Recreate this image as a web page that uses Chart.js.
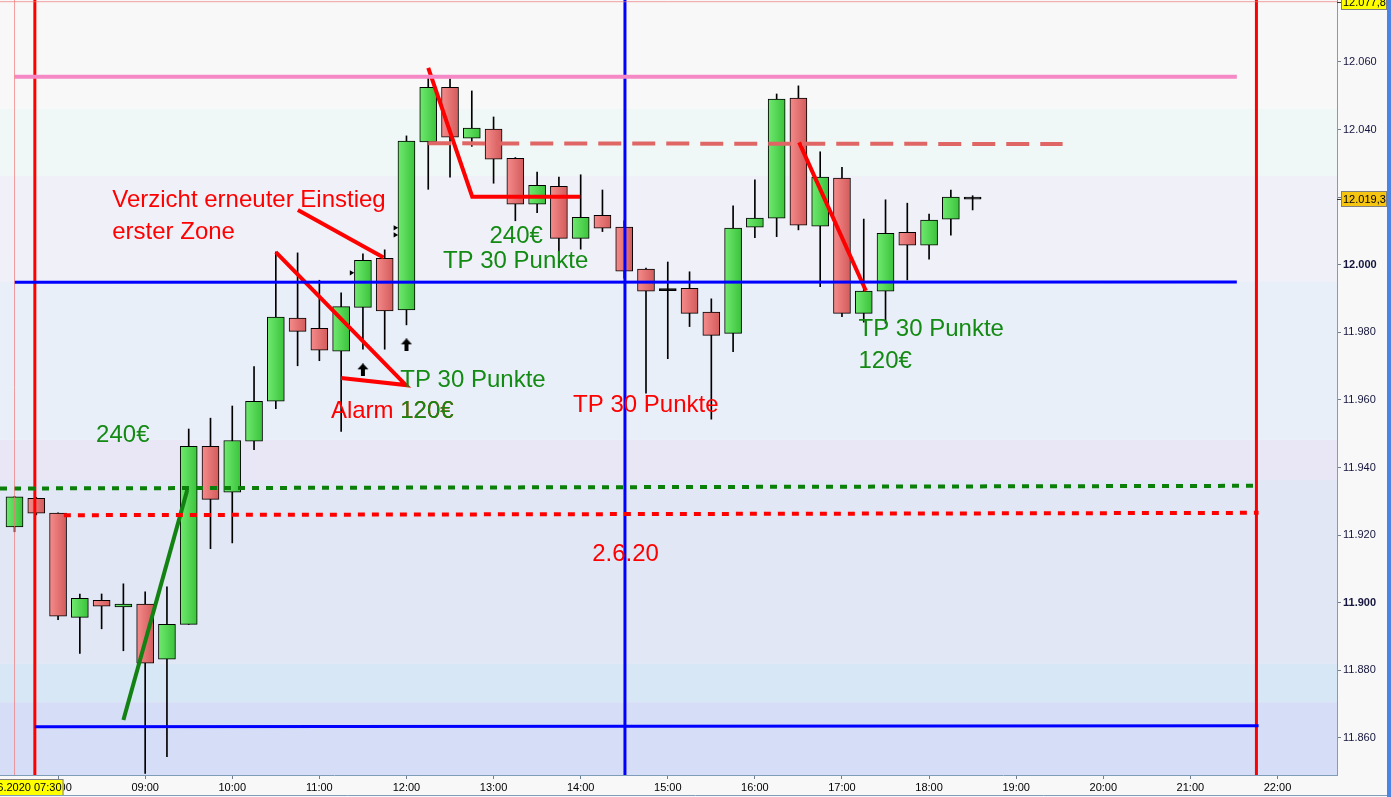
<!DOCTYPE html>
<html>
<head>
<meta charset="utf-8">
<script src="https://cdn.jsdelivr.net/npm/chart.js@4.4.0/dist/chart.umd.min.js"></script>
<style>
html,body{margin:0;padding:0;background:#f8f8f8;overflow:hidden}
canvas{display:block}
</style>
</head>
<body>
<canvas id="c" width="1391" height="797" style="width:1391px;height:797px"></canvas>
<script>
// 15-Minuten-Kerzen, 02.06.2020
const times  = ['07:30','07:45','08:00','08:15','08:30','08:45','09:00','09:15','09:30','09:45',
                '10:00','10:15','10:30','10:45','11:00','11:15','11:30','11:45','12:00','12:15',
                '12:30','12:45','13:00','13:15','13:30','13:45','14:00','14:15','14:30','14:45',
                '15:00','15:15','15:30','15:45','16:00','16:15','16:30','16:45','17:00','17:15',
                '17:30','17:45','18:00','18:15','18:30'];
const opens  = [11922.4,11930.9,11926.5,11895.7,11900.7,11898.8,11899.6,11883.3,11893.6,11946.3,
                11932.7,11947.8,11959.6,11984.2,11981.2,11974.4,11987.4,12001.9,11986.6,12036.3,
                12052.5,12037.4,12040.1,12031.5,12017.9,12023.2,12007.8,12014.6,12011.1,11998.7,
                11992.6,11993.0,11986.0,11979.7,12011.1,12013.8,12049.3,12011.4,12025.6,11985.6,
                11992.2,12009.6,12005.8,12013.5,12019.7];
const highs  = [11931.5,11931.2,11926.6,11902.6,11902.6,11905.6,11903.2,11904.7,11951.4,11954.6,
                11958.2,11969.9,12003.8,12003.5,11995.4,11991.7,12003.2,12004.4,12038.1,12055.3,
                12055.0,12051.4,12043.7,12031.7,12027.4,12025.9,12026.6,12022.1,12013.0,11999.0,
                12000.8,11997.9,11989.9,12017.4,12025.1,12050.5,12052.9,12033.4,12028.8,12013.5,
                12019.2,12018.2,12015.0,12022.1,12020.4];
const lows   = [11921.0,11926.0,11895.0,11885.0,11892.3,11885.8,11849.5,11854.5,11893.6,11916.0,
                11917.7,11945.3,11957.4,11970.1,11971.6,11950.7,11975.0,11975.0,11982.2,12022.3,
                12025.9,12035.0,12024.1,12013.0,12015.4,12002.9,12004.6,12009.8,11996.0,11962.0,
                11972.2,11981.7,11954.3,11974.3,12008.0,12008.3,12010.3,11993.5,11984.6,11983.0,
                11982.7,11995.5,12001.6,12008.7,12016.2];
const closes = [11931.3,11926.5,11896.0,11901.3,11899.0,11899.6,11882.1,11893.6,11946.3,11930.6,
                11948.0,11959.6,11984.5,11980.3,11974.7,11987.6,12001.3,11986.3,12036.6,12052.5,
                12037.7,12040.4,12031.2,12017.9,12023.5,12007.8,12014.0,12010.8,11998.1,11992.2,
                11992.6,11985.6,11979.1,12010.8,12013.8,12049.0,12011.7,12025.9,11985.6,11992.2,
                12009.3,12005.8,12013.2,12020.0,12019.7];

const xTickLabels = ['08:00','09:00','10:00','11:00','12:00','13:00','14:00','15:00',
                     '16:00','17:00','18:00','19:00','20:00','21:00','22:00'];
const yTickValues = [11860,11880,11900,11920,11940,11960,11980,12000,12020,12040,12060];

// Linien im Chart (Minuten seit Mitternacht, Kurs)
const pinkLevel      = [[450,12055.6],[1292,12055.6]];
const dashLevel      = [[735,12035.9],[1172,12035.7]];
const blueUpperLevel = [[450,11994.8],[1292,11994.9]];
const greenDotLevel  = [[440,11933.8],[1307,11934.6]];
const redDotLevel    = [[484,11925.9],[1307,11926.6]];
const blueLowerLevel = [[464,11863.3],[1307,11863.6]];
const redVertLeft  = 464;
const blueVert     = 870.5;
const redVertRight = 1305.5;
const crossTime  = 450;
const crossPrice = 12077.8;
const lastPrice  = 12019.3;

const greenStroke = [[525,11865.3],[569,11933.4]];
const redStrokeA  = [[735,12058.2],[765.3,12020.1],[839.7,12020.1]];
const redStrokeB  = [[630,12003.7],[719.6,11964.4],[675,11966.5]];
const redStrokeC  = [[645.2,12016.2],[704.2,12002.1]];
const redStrokeD  = [[990.5,12036.2],[1036.5,11992.3]];

const buyArrows  = [[690,11968.9],[720,11976.3]];
const markers    = [[682,11997.6],[712.2,12010.9],[712.2,12008.8]];

// Texte
const notes = [
  ['Verzicht erneuter Einstieg', 517.3, 12017.1, 'red'],
  ['erster Zone',                517.3, 12007.6, 'red'],
  ['240€',                       506.2, 11947.6, 'green'],
  ['TP 30 Punkte',               715.7, 11963.8, 'green'],
  ['240€',                       777.2, 12006.4, 'green'],
  ['TP 30 Punkte',               745.1, 11998.9, 'green'],
  ['TP 30 Punkte',               834.8, 11956.4, 'red'],
  ['TP 30 Punkte',               1031.4, 11978.9, 'green'],
  ['120€',                       1031.4, 11969.4, 'green'],
  ['2.6.20',                     847.9, 11912.4, 'red']
];
// "Alarm 120€" (rot) liegt unter dem grünen "120€"
const alarmNote = ['Alarm ', '120€', 715.7, 11954.7];

// Hintergrundzonen (Kurs von/bis)
const bandEdges  = [12078.3,12046.1,12026.3,11994.9,11948.2,11936.3,11881.9,11870.6,11849.0];
const bandColors = ['#f8f8f8','#eff8f6','#f0f0f9','#e9eff8','#e9e7f6','#e2e7f5','#d8e7f6','#d6ddf6'];

const X_MIN = 440, X_MAX = 1361, Y_MIN = 11849.05, Y_MAX = 12078.3;
const TXT_RED = '#ff0000', TXT_GREEN = '#138a13';

function toMin(s){ const p = s.split(':').map(Number); return p[0]*60 + p[1]; }
function pts(arr){ return arr.map(p => ({x:p[0], y:p[1]})); }
function vline(t){ return [{x:t, y:Y_MIN}, {x:t, y:Y_MAX}]; }

const tMin = times.map(toMin);
const wickData = tMin.map((t,i) => ({x:t, y:[lows[i], highs[i]]}));
const bodyData = tMin.map((t,i) => {
  let lo = Math.min(opens[i], closes[i]), hi = Math.max(opens[i], closes[i]);
  if (hi - lo < 0.5) { const m = (hi+lo)/2; lo = m-0.3; hi = m+0.3; }
  return {x:t, y:[lo, hi]};
});

function bodyColor(ctx){
  if (ctx.type !== 'data') return '#ccc';
  const i = ctx.dataIndex;
  if (Math.abs(closes[i]-opens[i]) < 0.5) return '#000';
  const up = closes[i] > opens[i];
  const chart = ctx.chart, xs = chart.scales && chart.scales.x;
  if (!xs || !chart.chartArea) return up ? '#50d850' : '#e47070';
  const px = xs.getPixelForValue(ctx.raw.x);
  const g = chart.ctx.createLinearGradient(px-8, 0, px+8, 0);
  g.addColorStop(0, up ? '#6ee86e' : '#f48a8a');
  g.addColorStop(1, up ? '#3cc43c' : '#d45c5c');
  return g;
}

function makeArrow(){
  const c = document.createElement('canvas'); c.width = 12; c.height = 13;
  const g = c.getContext('2d'); g.fillStyle = '#000';
  g.beginPath(); g.moveTo(6,0); g.lineTo(11.5,6); g.lineTo(0.5,6); g.closePath(); g.fill();
  g.fillRect(4,6,4,7);
  return c;
}

function lineDs(data, color, width, dash){
  return { type:'line', data, borderColor:color, borderWidth:width, borderDash:dash || [],
           pointRadius:0, fill:false, tension:0, order:0, borderCapStyle:'butt' };
}

const bgPlugin = {
  id:'bg',
  beforeDraw(chart){
    const c = chart.ctx, a = chart.chartArea, y = chart.scales.y;
    c.save();
    c.fillStyle = '#f8f8f8'; c.fillRect(0, 0, chart.width, chart.height);
    for (let i = 0; i < bandColors.length; i++){
      const y1 = y.getPixelForValue(bandEdges[i]), y2 = y.getPixelForValue(bandEdges[i+1]);
      c.fillStyle = bandColors[i];
      c.fillRect(a.left, Math.max(a.top, y1), a.right-a.left, Math.min(a.bottom, y2) - Math.max(a.top, y1));
    }
    c.restore();
  }
};

const textPlugin = {
  id:'notes',
  afterDatasetsDraw(chart){
    const c = chart.ctx, xs = chart.scales.x, ys = chart.scales.y;
    c.save();
    c.font = '24px "Liberation Sans", Arial, sans-serif';
    c.textBaseline = 'alphabetic'; c.textAlign = 'left';
    const ax = xs.getPixelForValue(alarmNote[2]), ay = ys.getPixelForValue(alarmNote[3]);
    c.fillStyle = TXT_RED;
    c.fillText(alarmNote[0] + alarmNote[1], ax - c.measureText(alarmNote[0]).width, ay);
    c.fillStyle = TXT_GREEN;
    c.fillText(alarmNote[1], ax, ay);
    notes.forEach(n => {
      c.fillStyle = n[3] === 'red' ? TXT_RED : TXT_GREEN;
      c.fillText(n[0], xs.getPixelForValue(n[1]), ys.getPixelForValue(n[2]));
    });
    c.restore();
  },
  afterDraw(chart){
    const c = chart.ctx, a = chart.chartArea, xs = chart.scales.x, ys = chart.scales.y;
    c.save();
    c.font = '11px "Liberation Sans", Arial, sans-serif';
    c.textBaseline = 'middle';
    // Kurs-Boxen rechts
    [[crossPrice, '#ffff00', '12.077,8'], [lastPrice, '#f6c512', '12.019,3']].forEach(b => {
      const yy = Math.round(ys.getPixelForValue(b[0]));
      c.fillStyle = b[1]; c.fillRect(a.right+4, yy-8, 46, 16);
      c.strokeStyle = '#808080'; c.lineWidth = 1; c.strokeRect(a.right+4.5, yy-7.5, 45, 15);
      c.strokeStyle = '#333'; c.beginPath(); c.moveTo(a.right, yy+0.5); c.lineTo(a.right+4, yy+0.5); c.stroke();
      c.fillStyle = '#000'; c.textAlign = 'left'; c.fillText(b[2], a.right+6, yy+0.5);
    });
    // Zeit-Box unten
    const xx = xs.getPixelForValue(crossTime);
    c.fillStyle = '#ffff00'; c.fillRect(-40, a.bottom+4, xx+49+40, 17);
    c.strokeStyle = '#808080'; c.strokeRect(-40.5, a.bottom+4.5, xx+49+40, 16);
    c.fillStyle = '#000'; c.textAlign = 'right';
    c.fillText('02.06.2020 07:30', xx+47, a.bottom+13);
    // Rahmen
    c.strokeStyle = '#7f9db9'; c.beginPath(); c.moveTo(0, 795.5); c.lineTo(chart.width, 795.5); c.stroke();
    c.fillStyle = '#4a84e4'; c.fillRect(chart.width-4, 0, 4, chart.height);
    c.restore();
  }
};

new Chart(document.getElementById('c'), {
  type:'bar',
  data:{
    datasets:[
      { label:'Docht', data:wickData, backgroundColor:'#000', barThickness:1, grouped:false, order:3 },
      { label:'Kerze', data:bodyData, backgroundColor:bodyColor, borderColor:'#000', borderWidth:1,
        borderSkipped:false, barThickness:17, grouped:false, order:2 },
      lineDs(vline(crossTime), 'rgba(240,120,120,0.7)', 1),
      lineDs([{x:X_MIN,y:crossPrice},{x:X_MAX,y:crossPrice}], 'rgba(240,120,120,0.7)', 1),
      lineDs(pts(pinkLevel), '#f589c6', 4),
      lineDs(pts(dashLevel), '#e06666', 4, [23,11]),
      lineDs(pts(blueUpperLevel), '#0000ff', 3),
      lineDs(pts(greenDotLevel), '#0a800a', 4, [7,7]),
      lineDs(pts(redDotLevel), '#ff0000', 4, [7,7]),
      lineDs(pts(blueLowerLevel), '#0000ff', 3),
      lineDs(vline(redVertLeft), '#ff0000', 3),
      lineDs(vline(blueVert), '#0000ff', 3),
      lineDs(vline(redVertRight), '#ff0000', 3),
      lineDs(pts(greenStroke), '#128212', 4),
      lineDs(pts(redStrokeA), '#ff0000', 4),
      lineDs(pts(redStrokeB), '#ff0000', 4),
      lineDs(pts(redStrokeC), '#ff0000', 4),
      lineDs(pts(redStrokeD), '#ff0000', 4),
      { type:'line', data:pts(buyArrows), showLine:false, pointStyle:makeArrow(), pointRadius:6, order:1 },
      { type:'line', data:pts(markers), showLine:false, pointStyle:'triangle', rotation:90,
        pointRadius:3, backgroundColor:'#000', borderColor:'#000', borderWidth:0, order:1 }
    ]
  },
  options:{
    responsive:false, animation:false, devicePixelRatio:1,
    layout:{ padding:0, autoPadding:false },
    plugins:{ legend:{ display:false }, tooltip:{ enabled:false } },
    events:[],
    scales:{
      x:{
        type:'linear', position:'bottom', min:X_MIN, max:X_MAX, offset:false,
        afterBuildTicks(s){ s.ticks = xTickLabels.map(l => ({value: toMin(l)})); },
        afterFit(s){ s.height = 22; s.paddingLeft = 0; s.paddingRight = 0; },
        ticks:{ autoSkip:false, maxRotation:0, padding:2, color:'#000',
                font:{ family:'"Liberation Sans", Arial', size:11 },
                callback:v => String(Math.floor(v/60)).padStart(2,'0') + ':00' },
        grid:{ drawOnChartArea:false, offset:false, tickLength:4, color:'#6f7f8f' },
        border:{ display:true, color:'#7f9db9' }
      },
      y:{
        type:'linear', position:'right', min:Y_MIN, max:Y_MAX,
        afterBuildTicks(s){ s.ticks = yTickValues.map(v => ({value:v})); },
        afterFit(s){ s.width = 54; s.paddingTop = 0; s.paddingBottom = 0; },
        ticks:{ padding:2, color:'#14143c',
                font:ctx => ({ family:'"Liberation Sans", Arial', size:11,
                               weight:(ctx.tick && ctx.tick.value % 100 === 0) ? 'bold' : 'normal' }),
                callback:v => (v/1000).toFixed(3) },
        grid:{ drawOnChartArea:false, tickLength:4, color:'#6f7f8f' },
        border:{ display:true, color:'#7f9db9' }
      }
    }
  },
  plugins:[bgPlugin, textPlugin]
});
</script>
</body>
</html>
